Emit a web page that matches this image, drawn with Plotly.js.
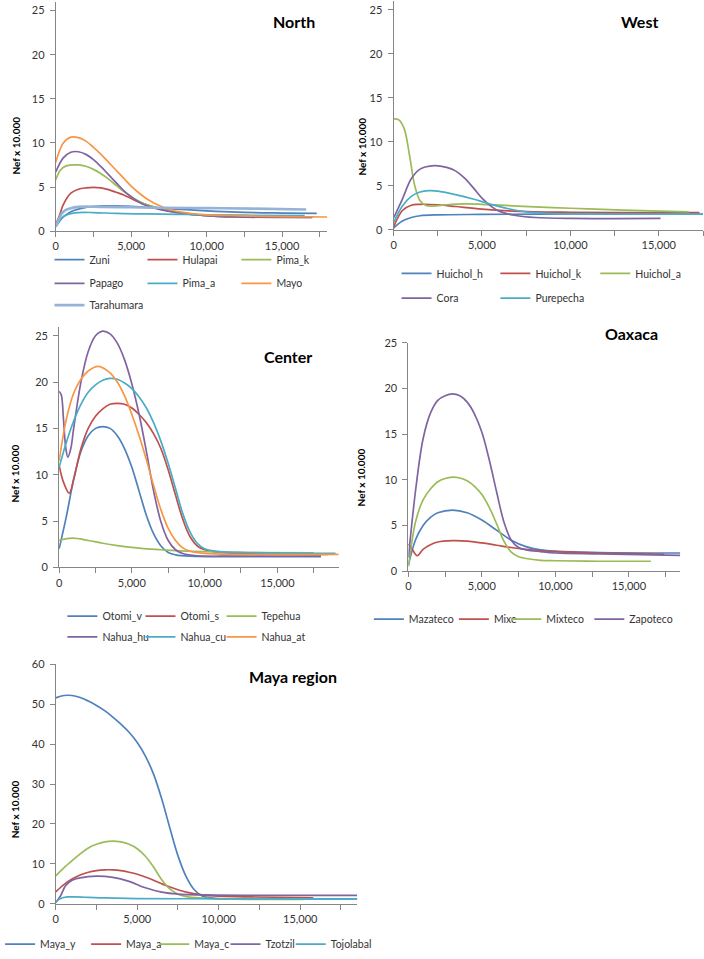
<!DOCTYPE html>
<html>
<head>
<meta charset="utf-8">
<script src="https://cdn.plot.ly/plotly-3.0.1.min.js"></script>
<style>
  html, body { margin: 0; padding: 0; background: #fff; }
  #chart { width: 704px; height: 959px; }
</style>
</head>
<body>
<div id="chart"></div>
<script>
// Effective population size (Nef x 10.000) against years before present, by region.
// Each series is a list of [years, Nef] points.

// North
const zuni = [[0,0.5],[500,1.6],[1000,2.2],[2000,2.7],[3000,2.85],[4000,2.85],[5000,2.8],[6000,2.7],[8000,2.5],[10000,2.3],[12000,2.15],[15000,2.05],[17300,2.0]];
const hulapai = [[0,0.8],[250,1.8],[500,3.0],[1000,4.3],[1500,4.75],[2000,4.9],[2500,4.95],[3000,4.9],[3500,4.7],[4000,4.4],[4500,4.1],[5000,3.7],[5500,3.3],[6000,3.0],[7000,2.5],[8000,2.15],[9000,1.9],[11000,1.65],[13000,1.6],[17000,1.55]];
const pimaK = [[0,5.8],[300,6.9],[700,7.4],[1500,7.5],[2000,7.35],[2500,7.0],[3000,6.5],[3500,5.9],[4000,5.2],[4500,4.5],[5000,3.9],[5500,3.4],[6000,3.0],[7000,2.5],[8000,2.15],[10000,1.75],[12000,1.65],[15000,1.6],[17000,1.6]];
const papago = [[0,6.7],[500,8.3],[1000,8.95],[1500,9.0],[2000,8.7],[2500,8.1],[3000,7.3],[3500,6.4],[4000,5.5],[4500,4.6],[5000,3.9],[5500,3.3],[6000,2.9],[7000,2.4],[8000,2.1],[10000,1.75],[12000,1.6],[15000,1.55],[17000,1.55]];
const pimaA = [[0,0.5],[400,1.5],[800,1.9],[1500,2.1],[2500,2.1],[4000,2.0],[6000,1.95],[8000,1.9],[10000,1.85],[13000,1.8],[16500,1.75]];
const mayo = [[0,7.8],[500,10.0],[1000,10.65],[1500,10.6],[2000,10.2],[2500,9.5],[3000,8.7],[3500,7.8],[4000,6.9],[4500,6.0],[5000,5.1],[5500,4.35],[6000,3.7],[6500,3.2],[7000,2.8],[7500,2.45],[8000,2.25],[9000,2.0],[10000,1.85],[12000,1.75],[15000,1.65],[18000,1.6]];
const tarahumara = [[0,0.5],[500,2.2],[1000,2.6],[1500,2.75],[3000,2.75],[5000,2.7],[7000,2.65],[10000,2.6],[13000,2.55],[16600,2.45]];

// West
const huicholH = [[0,0.2],[500,1.0],[1000,1.4],[1500,1.6],[2500,1.7],[5000,1.75],[10000,1.8],[15000,1.8],[17500,1.8]];
const huicholK = [[0,0.3],[500,2.2],[1000,2.8],[1500,2.9],[2500,2.85],[3500,2.65],[5000,2.35],[6500,2.15],[8000,2.05],[10000,2.0],[13000,1.95],[17300,1.95]];
const huicholA = [[0,12.6],[300,12.5],[600,11.5],[900,8.5],[1200,5.0],[1500,3.3],[1800,2.8],[2200,2.7],[3000,2.85],[4000,2.95],[5000,2.9],[7000,2.7],[10000,2.45],[13000,2.25],[16700,2.05]];
const cora = [[0,1.35],[500,3.5],[1000,5.8],[1500,6.9],[2300,7.3],[3000,7.1],[3500,6.7],[4000,5.9],[4500,4.8],[5000,3.6],[5500,2.7],[6000,2.1],[7000,1.6],[8000,1.4],[10000,1.3],[15100,1.3]];
const purepecha = [[0,0.8],[500,2.7],[1000,3.8],[1500,4.3],[2000,4.45],[2500,4.4],[3500,4.0],[4500,3.5],[5500,2.9],[6500,2.4],[7500,2.05],[9000,1.85],[12000,1.8],[17500,1.8]];

// Center
const otomiV = [[0,2.0],[500,5.5],[1000,9.5],[1500,12.5],[2000,14.2],[2500,15.0],[3000,15.2],[3500,15.0],[4000,14.2],[4500,12.8],[5000,10.8],[5500,8.2],[6000,5.6],[6500,3.6],[7000,2.3],[7500,1.6],[8000,1.35],[9000,1.2],[12000,1.15],[18000,1.15]];
const otomiS = [[0,11.0],[300,9.2],[700,8.0],[1000,9.5],[1500,12.8],[2000,15.0],[2500,16.3],[3000,17.1],[3500,17.6],[4000,17.7],[4500,17.6],[5000,17.2],[5500,16.5],[6000,15.6],[6500,14.4],[7000,12.8],[7500,10.5],[8000,7.8],[8500,5.2],[9000,3.3],[9500,2.3],[10000,1.9],[11000,1.6],[13000,1.5],[18500,1.4]];
const tepehua = [[0,2.9],[900,3.15],[2000,2.9],[3000,2.6],[4000,2.35],[5000,2.15],[6000,2.0],[7000,1.9],[8000,1.8],[10000,1.7],[13000,1.6],[17500,1.55]];
const nahuaHu = [[0,19.0],[150,18.6],[300,16.0],[450,13.0],[600,11.9],[800,12.8],[1000,15.0],[1500,20.0],[2000,23.3],[2500,25.0],[3000,25.5],[3500,25.2],[4000,24.2],[4500,22.4],[5000,19.8],[5500,16.5],[6000,12.5],[6500,8.2],[7000,4.9],[7500,2.9],[8000,1.9],[8500,1.5],[9500,1.25],[12000,1.2],[18000,1.2]];
const nahuaCu = [[0,10.8],[500,13.5],[1000,15.8],[1500,17.6],[2000,18.9],[2500,19.7],[3000,20.2],[3500,20.4],[4000,20.3],[4500,19.9],[5000,19.3],[5500,18.4],[6000,17.2],[6500,15.6],[7000,13.6],[7500,11.2],[8000,8.5],[8500,5.8],[9000,3.8],[9500,2.6],[10000,2.0],[11000,1.7],[13000,1.6],[19000,1.5]];
const nahuaAt = [[0,11.5],[500,16.0],[1000,18.8],[1500,20.3],[2000,21.2],[2700,21.7],[3500,21.0],[4000,20.0],[4500,18.5],[5000,16.5],[5500,14.2],[6000,11.6],[6500,8.8],[7000,6.2],[7500,4.2],[8000,2.9],[8500,2.1],[9000,1.75],[10000,1.5],[12000,1.4],[19200,1.4]];

// Oaxaca
const mazateco = [[0,0.7],[500,3.5],[1000,5.0],[1500,5.9],[2000,6.4],[3000,6.7],[4000,6.4],[5000,5.6],[6000,4.5],[7000,3.4],[8000,2.7],[9000,2.35],[10000,2.2],[13000,2.05],[18500,2.0]];
const mixe = [[0,3.0],[300,2.3],[600,1.7],[1000,2.4],[1500,2.9],[2000,3.2],[3000,3.35],[4000,3.3],[5000,3.1],[6000,2.85],[7000,2.6],[8000,2.4],[9000,2.25],[10000,2.15],[13000,2.0],[17400,1.85]];
const mixteco = [[0,0.5],[500,5.5],[1000,7.8],[1500,9.0],[2000,9.8],[2500,10.15],[3000,10.3],[3500,10.2],[4000,9.9],[4500,9.3],[5000,8.4],[5500,7.0],[6000,5.2],[6500,3.3],[7000,2.1],[7500,1.6],[8000,1.4],[9000,1.2],[10000,1.15],[13000,1.1],[16500,1.1]];
const zapoteco = [[0,1.5],[500,9.0],[1000,14.5],[1500,17.3],[2000,18.7],[2500,19.2],[3000,19.4],[3500,19.2],[4000,18.5],[4500,17.2],[5000,15.2],[5500,12.2],[6000,8.7],[6500,5.4],[7000,3.4],[7500,2.6],[8000,2.35],[9000,2.15],[10000,2.0],[13000,1.9],[18500,1.75]];

// Maya region
const mayaY = [[0,51.6],[500,52.2],[1000,52.2],[1500,51.7],[2000,50.8],[2500,49.7],[3000,48.4],[3500,46.8],[4000,45.0],[4500,43.0],[5000,40.4],[5500,37.0],[6000,32.5],[6500,26.3],[7000,19.0],[7500,12.0],[8000,6.8],[8500,3.5],[9000,1.9],[10000,1.3],[12000,1.2],[18500,1.2]];
const mayaA = [[0,3.0],[500,4.8],[1000,6.2],[1500,7.2],[2000,7.9],[2500,8.3],[3000,8.5],[3500,8.5],[4000,8.3],[4500,7.9],[5000,7.4],[5500,6.7],[6000,5.9],[6500,5.0],[7000,4.2],[8000,2.9],[9000,2.2],[10000,1.9],[12000,1.7],[15800,1.5]];
const mayaC = [[0,7.0],[500,9.0],[1000,10.8],[1500,12.5],[2000,14.0],[2500,14.9],[3000,15.5],[3500,15.7],[4000,15.5],[4500,14.9],[5000,13.8],[5500,11.9],[6000,9.2],[6500,6.0],[7000,3.7],[7500,2.4],[8000,1.8],[9000,1.4],[10000,1.2],[12000,1.1],[15200,1.1]];
const tzotzil = [[0,0.3],[300,2.0],[600,4.5],[1000,5.9],[1500,6.5],[2500,6.9],[3500,6.6],[4500,5.6],[5500,4.0],[6500,2.9],[7500,2.4],[9000,2.2],[12000,2.1],[18500,2.1]];
const tojolabal = [[0,0.5],[300,1.3],[700,1.7],[1200,1.7],[2000,1.6],[3000,1.45],[5000,1.3],[8000,1.25],[12000,1.2],[18500,1.2]];

const BLUE = '#4F81BD', RED = '#C0504D', GREEN = '#9BBB59', PURPLE = '#8064A2',
      AQUA = '#4BACC6', ORANGE = '#F79646', LIGHTBLUE = '#95B3D7';

// panel: title, axes suffix, plot box in page pixels [left, right, top, bottom], ranges,
// and series [name, points, colour, legend line start x, legend row y]
const panels = [
  { title: 'North', ax: '', box: [48.3, 323, 1.8, 233.3], xmax: 18000, ymax: 26, ydt: 5,
    titleAt: [289, 22], yTitleAt: [8, 147],
    series: [
      ['Zuni', zuni, BLUE, 53, 262], ['Hulapai', hulapai, RED, 147, 262], ['Pima_k', pimaK, GREEN, 242, 262],
      ['Papago', papago, PURPLE, 53, 286], ['Pima_a', pimaA, AQUA, 147, 286], ['Mayo', mayo, ORANGE, 242, 286],
      ['Tarahumara', tarahumara, LIGHTBLUE, 53, 308]
    ] },
  { title: 'West', ax: '2', box: [390, 703, 1.1, 232], xmax: 17500, ymax: 26, ydt: 5,
    titleAt: [639, 22], yTitleAt: [358, 148],
    series: [
      ['Huichol_h', huicholH, BLUE, 404, 276], ['Huichol_k', huicholK, RED, 504, 276], ['Huichol_a', huicholA, GREEN, 605, 276],
      ['Cora', cora, PURPLE, 404, 301], ['Purepecha', purepecha, AQUA, 504, 301]
    ] },
  { title: 'Center', ax: '3', box: [51.7, 335, 329.6, 572.7], xmax: 19250, ymax: 26, ydt: 5,
    titleAt: [283, 360], yTitleAt: [7, 478],
    series: [
      ['Otomi_v', otomiV, BLUE, 66, 622], ['Otomi_s', otomiS, RED, 145, 622], ['Tepehua', tepehua, GREEN, 227, 622],
      ['Nahua_hu', nahuaHu, PURPLE, 66, 643], ['Nahua_cu', nahuaCu, AQUA, 145, 643], ['Nahua_at', nahuaAt, ORANGE, 227, 643]
    ] },
  { title: 'Oaxaca', ax: '4', box: [405, 680, 346, 576.7], xmax: 18500, ymax: 25, ydt: 5,
    titleAt: [631, 337], yTitleAt: [358, 482],
    series: [
      ['Mazateco', mazateco, BLUE, 376, 625], ['Mixe', mixe, RED, 462, 625],
      ['Mixteco', mixteco, GREEN, 515, 625], ['Zapoteco', zapoteco, PURPLE, 599, 625]
    ] },
  { title: 'Maya region', ax: '5', box: [48.3, 353.3, 670.7, 912.3], xmax: 18500, ymax: 60, ydt: 10,
    titleAt: [288, 683], yTitleAt: [7, 817],
    series: [
      ['Maya_y', mayaY, BLUE, 3, 953], ['Maya_a', mayaA, RED, 90, 953], ['Maya_c', mayaC, GREEN, 159, 953],
      ['Tzotzil', tzotzil, PURPLE, 231, 953], ['Tojolabal', tojolabal, AQUA, 297, 953]
    ] }
];

const W = 704, H = 959;
const px = v => v / W;
const py = v => 1 - v / H;
const FONT = 'Lato, "Open Sans", sans-serif';
const AXIS_GREY = '#868686';

const traces = [];
const layout = {
  width: W, height: H,
  margin: { l: 0, r: 0, t: 0, b: 0 },
  paper_bgcolor: '#fff', plot_bgcolor: '#fff',
  font: { family: FONT, size: 11, color: '#333' },
  showlegend: true,
  annotations: []
};

let legendNo = 0;
panels.forEach(p => {
  const [l, r, t, b] = p.box;
  layout['xaxis' + p.ax] = {
    domain: [px(l), px(r)], range: [0, p.xmax], anchor: 'y' + p.ax,
    showline: true, linecolor: AXIS_GREY, linewidth: 1,
    ticks: 'outside', ticklen: 5, tickcolor: AXIS_GREY, dtick: 5000, tickformat: ',d',
    minor: { dtick: 2500, ticks: 'outside', ticklen: 5, tickcolor: AXIS_GREY },
    showgrid: false, zeroline: false, fixedrange: true,
    tickfont: { family: FONT, size: 11, color: '#333' }
  };
  layout['yaxis' + p.ax] = {
    domain: [py(b), py(t)], range: [0, p.ymax], anchor: 'x' + p.ax,
    showline: true, linecolor: AXIS_GREY, linewidth: 1,
    ticks: 'outside', ticklen: 5, tickcolor: AXIS_GREY, dtick: p.ydt, ticklabelstandoff: 3,
    showgrid: false, zeroline: false, fixedrange: true,
    tickfont: { family: FONT, size: 11, color: '#333' }
  };

  p.series.forEach(([name, pts, color, lx, ly]) => {
    legendNo += 1;
    const legendId = legendNo === 1 ? 'legend' : 'legend' + legendNo;
    traces.push({
      type: 'scatter', mode: 'lines', name: name,
      x: pts.map(d => d[0]), y: pts.map(d => d[1]),
      xaxis: 'x' + p.ax, yaxis: 'y' + p.ax,
      line: { color: color, width: name === 'Tarahumara' ? 2.6 : 1.7, shape: 'spline', smoothing: 1 },
      legend: legendId, showlegend: true, hoverinfo: 'skip'
    });
    layout[legendId] = {
      x: px(lx - 11), y: py(ly), xanchor: 'left', yanchor: 'middle',
      orientation: 'h', bgcolor: 'rgba(0,0,0,0)', borderwidth: 0, visible: true,
      font: { family: FONT, size: 10.5, color: '#333' }
    };
  });

  layout.annotations.push({
    text: '<b>' + p.title + '</b>', xref: 'paper', yref: 'paper',
    x: px(p.titleAt[0]), y: py(p.titleAt[1]), xanchor: 'center', yanchor: 'middle',
    showarrow: false, font: { family: FONT, size: 16, color: '#000' }
  });
  layout.annotations.push({
    text: '<b>Nef x 10.000</b>', xref: 'paper', yref: 'paper', textangle: -90,
    x: px(p.yTitleAt[0]), y: py(p.yTitleAt[1]), xanchor: 'center', yanchor: 'middle',
    showarrow: false, font: { family: FONT, size: 10, color: '#000' }
  });
});

Plotly.newPlot('chart', traces, layout, { displayModeBar: false, staticPlot: true });
</script>
</body>
</html>
